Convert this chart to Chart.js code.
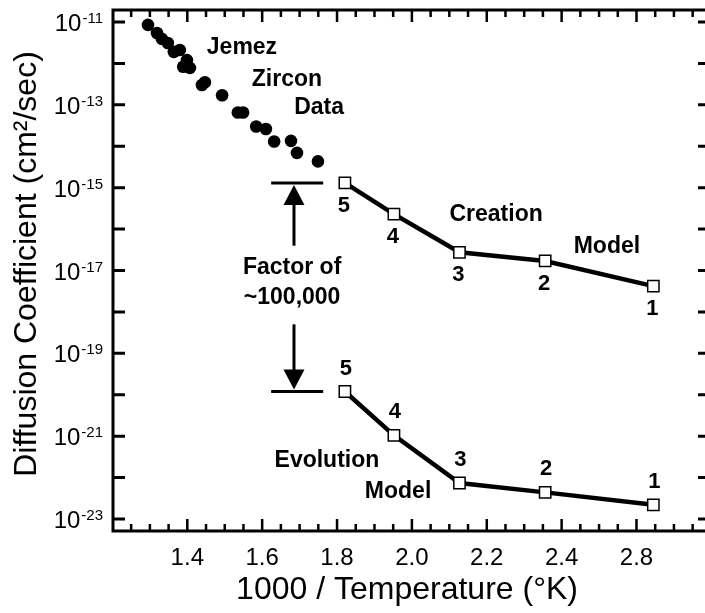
<!DOCTYPE html>
<html><head><meta charset="utf-8">
<script src="https://cdn.jsdelivr.net/npm/chart.js@4/dist/chart.umd.min.js"></script>
<style>html,body{margin:0;padding:0;background:#fff}canvas{display:block}</style>
</head><body><canvas id="c" width="705" height="613"></canvas>
<script>
// ---- data (x = 1000/T as read against the axis, y = diffusion coefficient cm^2/sec)
const jemezX = [1.295,1.319,1.332,1.348,1.364,1.380,1.399,1.389,1.407,1.439,1.447,1.493,1.535,1.549,1.584,1.610,1.632,1.677,1.693,1.749];
const jemezY = [8.5e-12,5.4e-12,3.9e-12,3.1e-12,1.9e-12,2.1e-12,1.2e-12,8.3e-13,7.8e-13,3.0e-13,3.5e-13,1.7e-13,6.5e-14,6.5e-14,3.0e-14,2.6e-14,1.3e-14,1.35e-14,6.9e-15,4.3e-15];
const modelX = [1.821,1.952,2.127,2.356,2.645];
const creationY = [1.3e-15,2.3e-16,2.75e-17,1.7e-17,4.2e-18];
const evolutionY = [1.2e-20,1.05e-21,7.4e-23,4.4e-23,2.2e-23];
const modelLabels = ["5","4","3","2","1"];
const xTickValues = [1.4,1.6,1.8,2.0,2.2,2.4,2.6];
const xTickLabels = ["1.4","1.6","1.8","2.0","2.2","2.4","2.8"];
const yTickExps = [-11,-13,-15,-17,-19,-21,-23];
const yTitle = "Diffusion Coefficient (cm²/sec)";
const xTitle = "1000 / Temperature (°K)";

const FONT = '"Liberation Sans", Arial, sans-serif';

function pts(xs, ys){ return xs.map((x,i)=>({x:x,y:ys[i]})); }

const decor = {
  id:'decor',
  afterDraw(chart){
    const ctx = chart.ctx, xs = chart.scales.x, ys = chart.scales.y, a = chart.chartArea;
    const X = v => xs.getPixelForValue(v), Y = v => ys.getPixelForValue(v);
    ctx.save();
    ctx.strokeStyle = '#000'; ctx.fillStyle = '#000'; ctx.lineCap = 'butt';
    // frame
    ctx.lineWidth = 3;
    ctx.beginPath();
    ctx.moveTo(a.right+2, a.top); ctx.lineTo(a.left, a.top); ctx.lineTo(a.left, a.bottom); ctx.lineTo(a.right+2, a.bottom);
    ctx.stroke();
    // y ticks every decade
    for (let e=-23; e<=-11; e++){
      const y = Y(Math.pow(10,e));
      ctx.beginPath(); ctx.moveTo(a.left, y); ctx.lineTo(a.left+12, y);
      ctx.moveTo(a.right, y); ctx.lineTo(a.right-7, y); ctx.stroke();
    }
    // x ticks every 0.05 (major every 0.2)
    ctx.lineWidth = 2.5;
    for (let k=125; k<=275; k+=5){
      const x = X(k/100);
      const L = (k % 20) === 0 ? 12 : 7;
      ctx.beginPath(); ctx.moveTo(x, a.bottom); ctx.lineTo(x, a.bottom-L);
      ctx.moveTo(x, a.top); ctx.lineTo(x, a.top+L); ctx.stroke();
    }
    // y tick labels with superscripts
    ctx.textBaseline = 'alphabetic';
    yTickExps.forEach(e=>{
      const y = Y(Math.pow(10,e));
      ctx.font = '15px '+FONT;
      const sup = '-'+String(-e);
      const sw = ctx.measureText(sup).width;
      ctx.textAlign = 'right';
      ctx.fillText(sup, 103, y+1);
      ctx.font = '24px '+FONT;
      ctx.fillText('10', 103-sw-1, y+9);
    });
    // x tick labels
    ctx.font = '24px '+FONT; ctx.textAlign = 'center'; ctx.textBaseline = 'middle';
    xTickValues.forEach((v,i)=>{ ctx.fillText(xTickLabels[i], X(v), 558); });
    // axis titles
    ctx.font = '32px '+FONT;
    ctx.fillText(xTitle, 407, 590);
    ctx.save(); ctx.translate(36, 264); ctx.rotate(-Math.PI/2);
    ctx.textBaseline = 'alphabetic';
    ctx.fillText(yTitle, 0, 0); ctx.restore();
    // bold text annotations
    ctx.font = 'bold 23px '+FONT; ctx.textBaseline = 'middle';
    const notes = [["Jemez",1.546,-11.63],["Zircon",1.666,-12.40],["Data",1.752,-13.07],
      ["Creation",2.225,-15.65],["Model",2.521,-16.42],["Evolution",1.773,-21.60],["Model",1.963,-22.33],
      ["Factor of",1.680,-16.93],["~100,000",1.680,-17.65]];
    notes.forEach(n=>ctx.fillText(n[0], X(n[1]), Y(Math.pow(10,n[2]))));
    // point numbers
    ctx.font = 'bold 22px '+FONT;
    modelX.forEach((x,i)=>{
      ctx.fillText(modelLabels[i], X(x)-1, Y(creationY[i])+23);
      ctx.fillText(modelLabels[i], X(x)+1, Y(evolutionY[i])-23);
    });
    // factor bars and arrows
    const bx0 = X(1.624), bx1 = X(1.763), ax = X(1.685);
    const yTop = Y(creationY[0]), yBot = Y(evolutionY[0]);
    ctx.lineWidth = 3;
    ctx.beginPath(); ctx.moveTo(bx0, yTop); ctx.lineTo(bx1, yTop);
    ctx.moveTo(bx0, yBot); ctx.lineTo(bx1, yBot); ctx.stroke();
    const upStart = Y(Math.pow(10,-16.40)), dnStart = Y(Math.pow(10,-18.30));
    ctx.beginPath(); ctx.moveTo(ax, upStart); ctx.lineTo(ax, yTop+18); ctx.stroke();
    ctx.beginPath(); ctx.moveTo(ax, yTop+2); ctx.lineTo(ax-10.5, yTop+22); ctx.lineTo(ax+10.5, yTop+22); ctx.closePath(); ctx.fill();
    ctx.beginPath(); ctx.moveTo(ax, dnStart); ctx.lineTo(ax, yBot-18); ctx.stroke();
    ctx.beginPath(); ctx.moveTo(ax, yBot-2); ctx.lineTo(ax-10.5, yBot-22); ctx.lineTo(ax+10.5, yBot-22); ctx.closePath(); ctx.fill();
    ctx.restore();
  }
};

new Chart(document.getElementById('c'), {
  type:'scatter',
  data:{ datasets:[
    {label:'Jemez Zircon Data', data:pts(jemezX,jemezY), showLine:false, pointStyle:'circle', pointRadius:6.3, pointBackgroundColor:'#000', pointBorderColor:'#000', pointBorderWidth:0},
    {label:'Creation Model', data:pts(modelX,creationY), showLine:true, borderColor:'#000', borderWidth:4.5, pointStyle:'rect', pointRadius:8, pointBackgroundColor:'#fff', pointBorderColor:'#000', pointBorderWidth:1.5},
    {label:'Evolution Model', data:pts(modelX,evolutionY), showLine:true, borderColor:'#000', borderWidth:4.5, pointStyle:'rect', pointRadius:8, pointBackgroundColor:'#fff', pointBorderColor:'#000', pointBorderWidth:1.5}
  ]},
  options:{
    responsive:false, animation:false, devicePixelRatio:1,
    layout:{autoPadding:false, padding:{left:113, top:10, right:0, bottom:82}},
    plugins:{legend:{display:false}, tooltip:{enabled:false}},
    scales:{
      x:{type:'linear', min:1.2015, max:2.783, display:false},
      y:{type:'logarithmic', min:Math.pow(10,-23.289), max:Math.pow(10,-10.711), display:false}
    }
  },
  plugins:[decor]
});
</script></body></html>
